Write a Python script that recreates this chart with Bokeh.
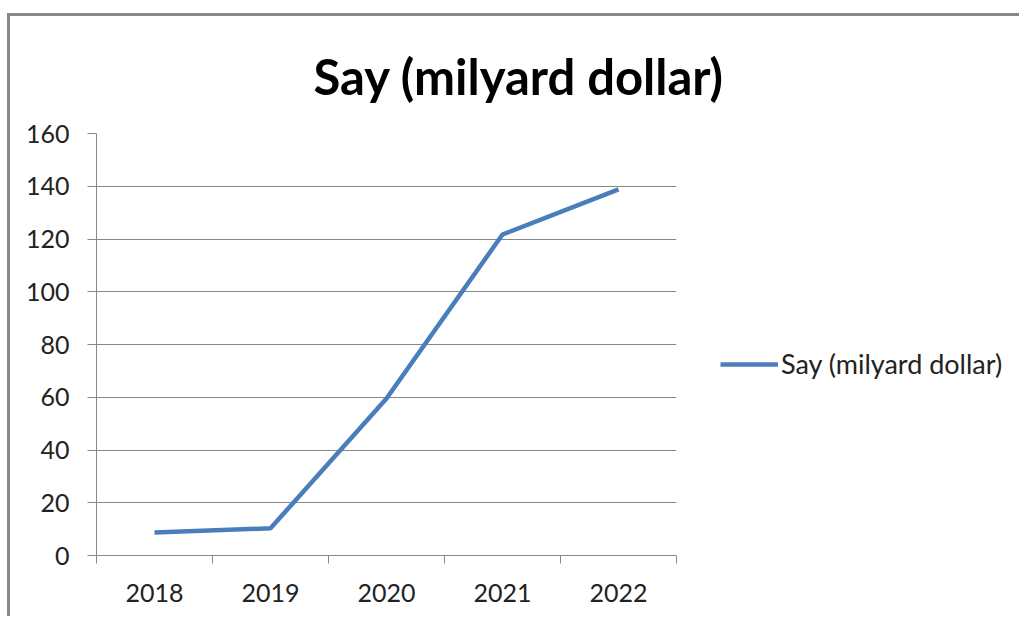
from bokeh.plotting import figure
from bokeh.models import (ColumnDataSource, FixedTicker, Legend, LegendItem, Range1d, Title)
from bokeh.embed import file_html
from bokeh.resources import INLINE

years = ["2018", "2019", "2020", "2021", "2022"]
values = [8.7, 10.3, 59.5, 121.7, 138.8]
y_ticks = [0, 20, 40, 60, 80, 100, 120, 140, 160]
title_text = "Say (milyard dollar)"
series_name = "Say (milyard dollar)"

GRAY = "#878787"
BLUE = "#4A7EBB"
FONT = "Lato"

xs = [i + 0.5 for i in range(len(years))]
src = ColumnDataSource(dict(x=xs, y=values))

p = figure(frame_width=580, frame_height=422,
           min_border_left=86, min_border_right=330,
           min_border_top=117, min_border_bottom=61,
           x_range=Range1d(0, len(years)), y_range=Range1d(y_ticks[0], y_ticks[-1]),
           output_backend="svg", toolbar_location=None,
           styles={"margin-top": "13px", "margin-left": "7px",
                   "border-top": f"3px solid {GRAY}",
                   "border-left": f"3px solid {GRAY}"})
p.outline_line_color = None
p.background_fill_color = "white"
p.border_fill_color = "white"

r = p.line("x", "y", source=src, line_color=BLUE, line_width=4.5)

# y axis
yax = p.yaxis[0]
yax.ticker = FixedTicker(ticks=y_ticks)
yax.axis_line_color = GRAY
yax.major_tick_line_color = GRAY
yax.major_tick_out = 9
yax.major_tick_in = 0
yax.minor_tick_line_color = None
yax.major_label_text_font = FONT
yax.major_label_text_font_size = "25px"
yax.major_label_text_color = "#222222"
yax.major_label_standoff = 18

# x axis
xax = p.xaxis[0]
xax.ticker = FixedTicker(ticks=xs, minor_ticks=list(range(len(years) + 1)))
xax.major_label_overrides = {x: y for x, y in zip(xs, years)}
xax.axis_line_color = GRAY
xax.major_tick_line_color = None
xax.major_tick_out = 0
xax.major_tick_in = 0
xax.minor_tick_line_color = GRAY
xax.minor_tick_out = 8
xax.minor_tick_in = 0
xax.major_label_text_font = FONT
xax.major_label_text_font_size = "25px"
xax.major_label_text_color = "#222222"
xax.major_label_standoff = 20

p.xgrid.grid_line_color = None
p.ygrid.grid_line_color = GRAY
p.ygrid.grid_line_width = 1

title = Title(text=title_text, align="left", offset=217, vertical_align="top",
              standoff=54, text_font=FONT, text_font_style="bold",
              text_font_size="49px", text_color="black")
p.add_layout(title, "above")

legend = Legend(items=[LegendItem(label=series_name, renderers=[r])],
                location=(44, 175), padding=0, margin=0, spacing=0,
                label_standoff=3, glyph_width=58, glyph_height=30, label_height=30,
                border_line_color=None, background_fill_alpha=0,
                label_text_font=FONT, label_text_font_size="27px", label_text_color="#222222")
p.add_layout(legend, "right")

open("out.html", "w").write(file_html(p, INLINE))
